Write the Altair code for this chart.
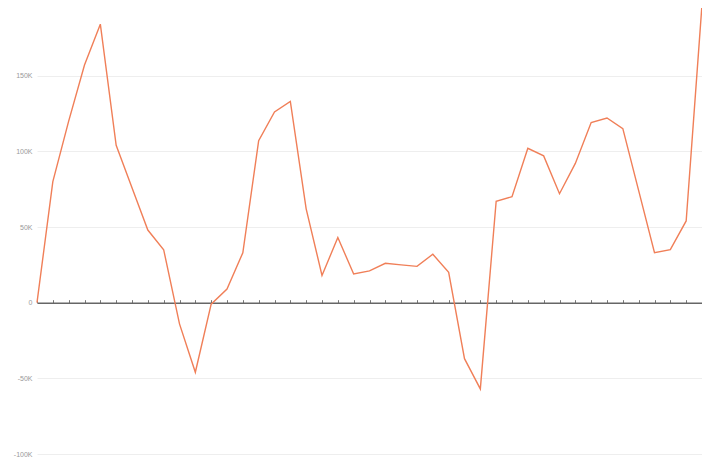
import altair as alt
import pandas as pd

# values (one per category, 43 points)
values = [0, 80000, 120000, 157000, 184000, 104000, 76000, 48000, 35000, -14000,
          -46000, -1000, 9000, 33000, 107000, 126000, 133000, 62000, 18000, 43000,
          19000, 21000, 26000, 25000, 24000, 32000, 20000, -37000, -57000, 67000,
          70000, 102000, 97000, 72000, 92000, 119000, 122000, 115000, 74000, 33000,
          35000, 54000, 197000]
categories = list(range(len(values)))
y_ticks = [-100000, -50000, 0, 50000, 100000, 150000, 200000]

df = pd.DataFrame({"i": categories, "v": values})

W = 665
H = 454

chart = alt.Chart(df).mark_line(color="#f07f58", strokeWidth=1.4).encode(
    x=alt.X("i:O", scale=alt.Scale(type="point", padding=0),
            axis=alt.Axis(orient="top", offset=-H * 2 / 3, labels=False, title=None,
                          domainColor="#666", domainWidth=1.5, tickColor="#777",
                          tickSize=3, tickWidth=1, grid=False)),
    y=alt.Y("v:Q", scale=alt.Scale(domain=[-100000, 200000], nice=False),
            axis=alt.Axis(values=y_ticks, title=None, domain=False, ticks=False,
                          labelExpr="datum.value == 0 ? '0' : (datum.value/1000) + 'K'",
                          labelFontSize=7, labelColor="#999", labelPadding=5,
                          labelFont="Liberation Sans",
                          gridColor="#eeeeee", gridWidth=1)),
).properties(
    width=W, height=H,
    background="white",
    autosize=alt.AutoSizeParams(type="none"),
    padding={"left": 29, "top": -8, "right": 0, "bottom": 4},
).configure_view(stroke=None)

chart.save("out.html", embed_options={"renderer": "svg", "actions": False})
